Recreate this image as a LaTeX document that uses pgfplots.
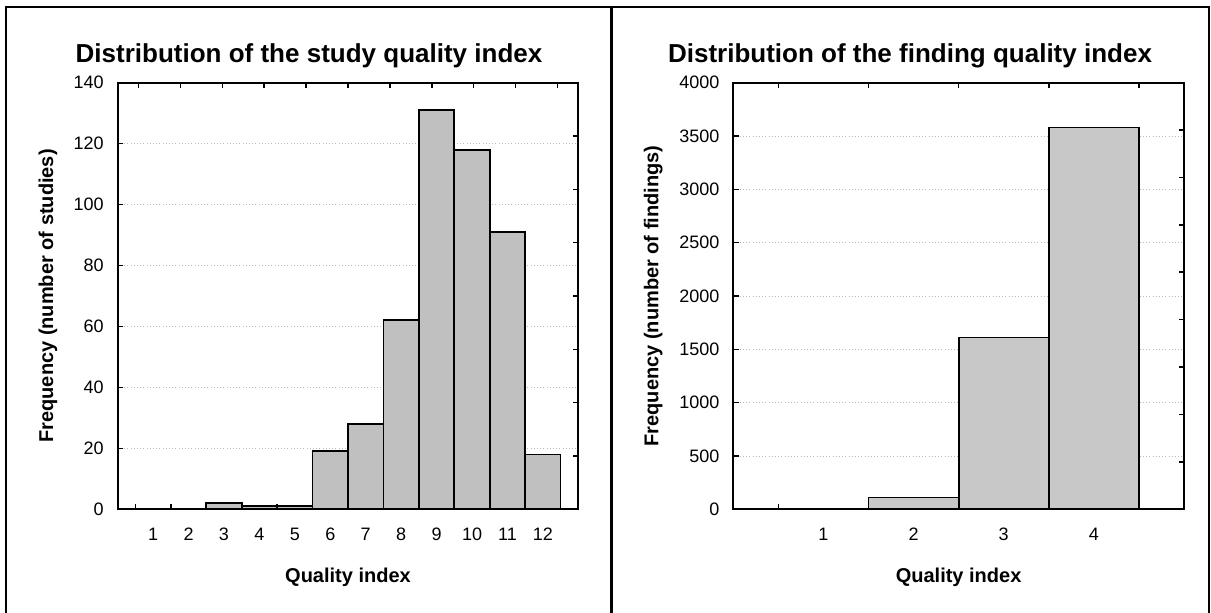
\documentclass[border=0pt]{standalone}
\usepackage{fontspec}
\setmainfont{Liberation Sans}
\usepackage{pgfplots}
\pgfplotsset{compat=1.18}
\newdimen\px \px=0.75pt
\definecolor{barL}{RGB}{192,192,192}
\definecolor{barR}{RGB}{200,200,200}
\definecolor{gridc}{RGB}{185,185,185}
\pgfplotsset{
 common/.style={
  scale only axis, anchor=south west,
  axis line style={line width=2\px},
  tick style={line width=1.6\px, black},
  major tick length=0pt, minor tick length=5.3\px,
  tick align=inside,
  xtick pos=left, ytick pos=left,
  ymajorgrids, grid style={dotted, gridc, line width=0.8\px},
  /pgf/number format/assume math mode=true,
  /pgf/number format/1000 sep={},
  scaled y ticks=false,
  ticklabel style={font=\fontsize{13.5pt}{13.5pt}\selectfont, inner sep=0pt},
  xticklabel style={anchor=base, yshift=-31.7\px},
  yticklabel style={anchor=east, xshift=-13.7\px},
 },
 over/.style={
  scale only axis, anchor=south west,
  axis line style={line width=2\px},
  tick style={line width=1.6\px, black},
  major tick length=5.3\px, tick align=inside,
  xtick pos=right, ytick pos=right,
  xticklabels={}, yticklabels={},
 }
}
\begin{document}
\begin{tikzpicture}
\useasboundingbox (0,0) rectangle (1211\px,613\px);
% left panel
\begin{axis}[common, at={(117.7\px,103.7\px)}, width=460.6\px, height=426.6\px,
  xmin=0, xmax=13, ymin=0, ymax=140,
  xtick={1,...,12}, minor xtick={0.5,1.5,...,12.5},
  ytick={0,20,...,140}, minor ytick={0,20,...,140}]
\addplot[ybar, bar width=1, fill=barL, draw=black, line width=1.8\px]
 coordinates {(1,0) (2,0) (3,2) (4,1) (5,1) (6,19) (7,28) (8,62) (9,131) (10,118) (11,91) (12,18)};
\end{axis}
\begin{axis}[over, at={(117.7\px,103.7\px)}, width=460.6\px, height=426.6\px,
  xmin=0, xmax=11, ymin=0, ymax=8,
  xtick={0.5,1.5,...,10.5}, ytick={1,...,7}]
\addplot[draw=none] coordinates {(0,0)};
\end{axis}
% right panel
\begin{axis}[common, at={(733.3\px,103.7\px)}, width=450.7\px, height=426.6\px,
  xmin=0, xmax=5, ymin=0, ymax=4000,
  xtick={1,...,4}, minor xtick={0.5,1.5,...,4.5},
  ytick={0,500,...,4000}, minor ytick={0,500,...,4000}]
\addplot[ybar, bar width=1, fill=barR, draw=black, line width=1.8\px]
 coordinates {(1,0) (2,110) (3,1610) (4,3580)};
\end{axis}
\begin{axis}[over, at={(733.3\px,103.7\px)}, width=450.7\px, height=426.6\px,
  xmin=0, xmax=5, ymin=0, ymax=9,
  xtick={0.5,1.5,...,4.5}, ytick={1,...,8}]
\addplot[draw=none] coordinates {(0,0)};
\end{axis}
% titles and labels
\node[anchor=base, font=\bfseries\fontsize{19.5pt}{19.5pt}\selectfont] at (309\px,550.3\px) {Distribution of the study quality index};
\node[anchor=base, font=\bfseries\fontsize{19.5pt}{19.5pt}\selectfont] at (910\px,550.3\px) {Distribution of the finding quality index};
\node[anchor=base, font=\bfseries\fontsize{15pt}{15pt}\selectfont] at (348\px,30.3\px) {Quality index};
\node[anchor=base, font=\bfseries\fontsize{15pt}{15pt}\selectfont] at (958.6\px,30.3\px) {Quality index};
\node[anchor=base, rotate=90, font=\bfseries\fontsize{15pt}{15pt}\selectfont] at (53\px,317\px) {Frequency (number of studies)};
\node[anchor=base, rotate=90, font=\bfseries\fontsize{15pt}{15pt}\selectfont] at (658.3\px,317\px) {Frequency (number of findings)};
% frames
\draw[line width=2.5\px] (6\px,0) -- (6\px,606\px) -- (1209\px,606\px) -- (1209\px,0);
\draw[line width=2.5\px] (611.5\px,0) -- (611.5\px,606\px);
\end{tikzpicture}
\end{document}
